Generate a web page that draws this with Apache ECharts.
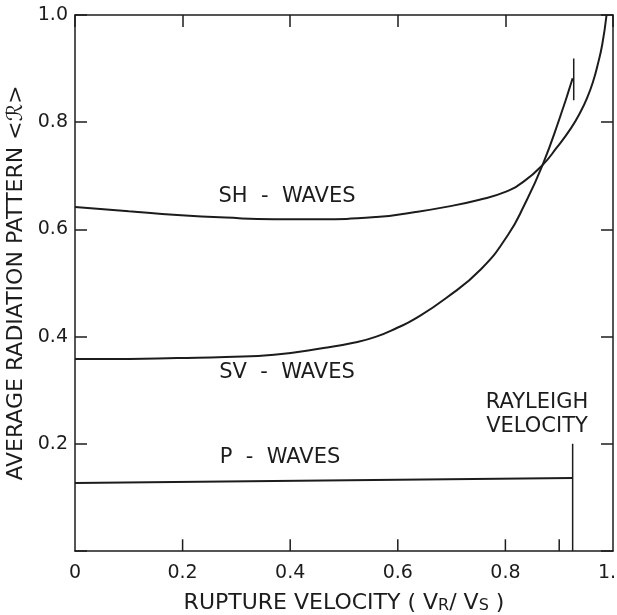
<!DOCTYPE html>
<html lang="en">
<head>
    <meta charset="UTF-8">
    <title>Average radiation pattern vs rupture velocity</title>
    <script src="https://cdn.jsdelivr.net/npm/echarts@6/dist/echarts.min.js"></script>
    <style>
        body { margin: 0; background: #fff; }
        #chart { width: 617px; height: 615px; }
    </style>
</head>
<body>
    <div id="chart"></div>

    <script>
        // values
        const shX = [0, 0.1, 0.19, 0.28, 0.37, 0.45, 0.56, 0.63, 0.69, 0.75, 0.8, 0.835, 0.869, 0.895, 0.922, 0.94, 0.953, 0.963, 0.971, 0.98, 0.988];
        const shY = [0.642, 0.634, 0.627, 0.622, 0.619, 0.619, 0.623, 0.632, 0.642, 0.655, 0.67, 0.69, 0.72, 0.752, 0.789, 0.82, 0.848, 0.876, 0.905, 0.945, 1.0];

        const svX = [0, 0.1, 0.19, 0.28, 0.37, 0.465, 0.52, 0.56, 0.6, 0.63, 0.69, 0.755, 0.805, 0.835, 0.869, 0.9, 0.925];
        const svY = [0.358, 0.358, 0.36, 0.362, 0.366, 0.379, 0.389, 0.4, 0.417, 0.432, 0.472, 0.526, 0.59, 0.645, 0.72, 0.805, 0.882];

        const pX = [0, 0.925];
        const pY = [0.127, 0.136];

        const rayleighX = 0.925;
        const rayleighY = [0, 0.2];
        const svEndX = 0.927;
        const svEndY = [0.841, 0.919];

        const xTicks = [0.2, 0.4, 0.6, 0.8, 0.9];
        const xLabels = [0, 0.2, 0.4, 0.6, 0.8, 1.0];
        const yTicks = [0, 0.2, 0.4, 0.6, 0.8, 1.0];

        const ink = '#1c1c1c';
        const font = 'DejaVu Sans';
        const tickLen = 0.022; // bottom tick height, in y units

        function pairs(xs, ys) {
            return xs.map((x, i) => [x, ys[i]]);
        }

        function fmt(v) {
            return v === 0 ? '0' : v.toFixed(1);
        }

        function frame() {
            return { show: true, onZero: false, lineStyle: { color: ink, width: 1.5 } };
        }

        function ticks(values) {
            return { show: true, inside: true, length: 12, customValues: values, lineStyle: { color: ink, width: 1.5 } };
        }

        const chart = echarts.init(document.getElementById('chart'));

        const lineStyle = { color: ink, width: 2 };
        const thin = { color: ink, width: 1.5 };
        const labelFont = '21px "DejaVu Sans"';

        // bottom edge ticks drawn as short vertical segments
        const tickSeries = xTicks.map(x => ({
            type: 'line', data: [[x, 0], [x, tickLen]], showSymbol: false, silent: true, lineStyle: thin
        }));

        const option = {
            animation: false,
            grid: { left: 75, right: 4, top: 15, bottom: 64, outerBoundsMode: 'none' },
            xAxis: [
                {
                    type: 'value', min: 0, max: 1, position: 'bottom',
                    axisLine: frame(),
                    axisTick: { show: false },
                    axisLabel: { customValues: xLabels, formatter: fmt, margin: 13, color: ink, fontSize: 19, fontFamily: font },
                    splitLine: { show: false },
                    name: '{a|RUPTURE VELOCITY ( V}{s|R}{a|/ V}{s|S}{a| )}',
                    nameLocation: 'middle',
                    nameGap: 37,
                    nameTextStyle: {
                        rich: {
                            a: { fontSize: 22, fontFamily: font, color: ink, lineHeight: 26, verticalAlign: 'bottom' },
                            s: { fontSize: 16, fontFamily: font, color: ink, padding: [10, 0, 0, 0], verticalAlign: 'bottom' }
                        }
                    }
                },
                {
                    type: 'value', min: 0, max: 1, position: 'top',
                    axisLine: frame(),
                    axisTick: ticks(xLabels),
                    axisLabel: { show: false },
                    splitLine: { show: false }
                }
            ],
            yAxis: [
                {
                    type: 'value', min: 0, max: 1, position: 'left',
                    axisLine: frame(),
                    axisTick: ticks(yTicks),
                    axisLabel: { customValues: yTicks.slice(1), formatter: fmt, margin: 7, color: ink, fontSize: 19, fontFamily: font },
                    splitLine: { show: false },
                    name: 'AVERAGE RADIATION PATTERN <ℛ>',
                    nameLocation: 'middle',
                    nameGap: 42,
                    nameTextStyle: { fontSize: 22, fontFamily: font, color: ink }
                },
                {
                    type: 'value', min: 0, max: 1, position: 'right',
                    axisLine: frame(),
                    axisTick: ticks(yTicks),
                    axisLabel: { show: false },
                    splitLine: { show: false }
                }
            ],
            series: [
                { name: 'SH', type: 'line', data: pairs(shX, shY), smooth: 0.5, showSymbol: false, lineStyle: lineStyle },
                { name: 'SV', type: 'line', data: pairs(svX, svY), smooth: 0.5, showSymbol: false, lineStyle: lineStyle },
                { name: 'P', type: 'line', data: pairs(pX, pY), showSymbol: false, lineStyle: lineStyle },
                { name: 'Rayleigh', type: 'line', data: rayleighY.map(y => [rayleighX, y]), showSymbol: false, lineStyle: thin },
                { name: 'SV end', type: 'line', data: svEndY.map(y => [svEndX, y]), showSymbol: false, lineStyle: thin }
            ].concat(tickSeries),
            graphic: [
                { type: 'text', x: 287, y: 197, style: { text: 'SH  -  WAVES', fill: ink, font: labelFont, align: 'center', verticalAlign: 'middle' } },
                { type: 'text', x: 287, y: 373, style: { text: 'SV  -  WAVES', fill: ink, font: labelFont, align: 'center', verticalAlign: 'middle' } },
                { type: 'text', x: 280, y: 458, style: { text: 'P  -  WAVES', fill: ink, font: labelFont, align: 'center', verticalAlign: 'middle' } },
                { type: 'text', x: 537, y: 403, style: { text: 'RAYLEIGH', fill: ink, font: labelFont, align: 'center', verticalAlign: 'middle' } },
                { type: 'text', x: 537, y: 427, style: { text: 'VELOCITY', fill: ink, font: labelFont, align: 'center', verticalAlign: 'middle' } }
            ]
        };

        chart.setOption(option);
    </script>
</body>
</html>
